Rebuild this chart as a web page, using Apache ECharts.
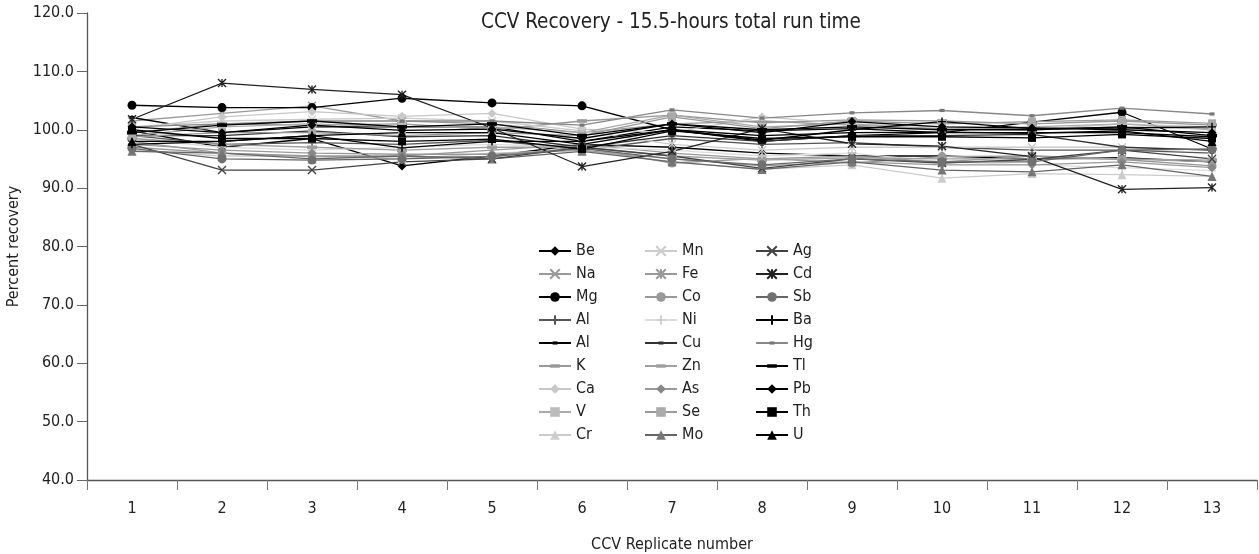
<!DOCTYPE html>
<html>
<head>
<meta charset="utf-8">
<script src="https://cdn.jsdelivr.net/npm/echarts@6/dist/echarts.min.js"></script>
<style>
html,body{margin:0;padding:0;background:#fff;}
#chart{width:1259px;height:554px;}
</style>
</head>
<body>
<div id="chart"></div>
<script>
var categories = ['1','2','3','4','5','6','7','8','9','10','11','12','13'];
var yTicks = [40, 50, 60, 70, 80, 90, 100, 110, 120];

// element labels (legend order, column by column)
var elements = ['Be','Na','Mg','Al','Al','K','Ca','V','Cr','Mn','Fe','Co','Ni','Cu','Zn','As','Se','Mo','Ag','Cd','Sb','Ba','Hg','Tl','Pb','Th','U'];

var Be  = [99.8, 97.0, 98.5, 93.8, 95.5, 97.5, 97.0, 96.0, 95.5, 95.5, 95.0, 95.2, 94.5];
var Na  = [101.5, 102.8, 104.1, 101.5, 101.0, 99.5, 101.0, 101.5, 100.8, 100.2, 100.0, 100.5, 100.2];
var Mg  = [104.2, 103.8, 103.8, 105.4, 104.6, 104.1, 100.0, 98.0, 99.0, 99.5, 101.3, 103.0, 96.7];
var Al1 = [99.0, 97.5, 97.8, 97.5, 98.2, 96.5, 98.5, 97.5, 97.8, 97.0, 96.5, 96.5, 96.0];
var Al2 = [102.1, 99.5, 100.5, 100.5, 100.5, 98.0, 100.5, 99.8, 100.2, 99.5, 99.5, 99.5, 98.8];
var K   = [99.5, 101.0, 100.8, 101.0, 100.0, 101.5, 102.5, 101.2, 101.7, 101.5, 101.0, 101.5, 100.8];
var Ca  = [100.2, 102.2, 103.1, 102.3, 102.8, 100.1, 99.5, 102.2, 101.0, 100.5, 100.0, 101.0, 100.5];
var V   = [99.0, 100.5, 101.0, 100.5, 100.5, 99.5, 102.5, 100.5, 101.0, 100.0, 100.5, 101.0, 100.0];
var Cr  = [96.5, 95.5, 95.5, 95.0, 96.0, 96.5, 94.5, 93.2, 94.0, 91.7, 92.5, 92.3, 92.0];
var Mn  = [100.5, 101.5, 101.8, 102.0, 101.5, 99.8, 97.5, 96.5, 97.0, 97.0, 97.0, 97.0, 96.5];
var Fe  = [98.0, 96.0, 95.5, 95.5, 96.5, 97.5, 96.0, 95.0, 95.5, 94.5, 95.5, 95.0, 94.5];
var Co  = [97.0, 96.0, 95.4, 95.4, 95.4, 97.0, 94.3, 95.1, 94.3, 95.4, 95.5, 94.9, 93.8];
var Ni  = [98.5, 97.0, 96.5, 97.0, 97.5, 97.0, 96.5, 95.5, 96.0, 94.5, 94.0, 93.5, 93.0];
var Cu  = [99.0, 99.0, 99.8, 98.8, 99.0, 97.0, 99.0, 98.0, 99.0, 99.0, 99.2, 97.0, 96.5];
var Zn  = [98.5, 97.5, 97.0, 96.5, 97.0, 97.0, 95.5, 94.8, 95.2, 95.0, 95.0, 95.0, 94.8];
var As  = [97.5, 96.5, 96.0, 95.8, 95.8, 96.5, 95.0, 93.8, 94.5, 94.0, 94.0, 94.5, 93.5];
var Se  = [98.8, 99.5, 99.5, 99.0, 99.5, 99.0, 102.2, 100.2, 101.5, 101.0, 101.4, 101.7, 101.1];
var Mo  = [96.3, 96.0, 95.0, 95.5, 95.0, 96.3, 94.5, 93.2, 94.5, 93.1, 92.8, 94.0, 92.0];
var Ag  = [97.5, 93.1, 93.1, 94.5, 95.0, 97.0, 95.5, 93.4, 95.0, 94.3, 94.9, 96.5, 95.0];
var Cd  = [101.8, 108.0, 106.9, 106.0, 100.3, 93.7, 96.3, 100.2, 97.6, 97.2, 95.4, 89.8, 90.1];
var Sb  = [96.8, 95.0, 94.8, 95.0, 95.4, 96.8, 95.0, 94.0, 95.0, 94.5, 94.5, 96.5, 96.7];
var Ba  = [97.5, 98.0, 99.0, 96.9, 98.0, 98.0, 100.0, 98.2, 100.0, 101.4, 100.2, 100.3, 100.5];
var Hg  = [100.5, 101.0, 101.5, 101.5, 101.5, 100.8, 103.4, 102.0, 102.9, 103.3, 102.4, 103.7, 102.7];
var Tl  = [99.5, 100.8, 101.5, 100.5, 101.0, 99.0, 101.0, 100.0, 100.5, 100.0, 100.0, 100.5, 99.0];
var Pb  = [100.5, 99.5, 100.8, 99.9, 100.1, 98.5, 101.0, 99.5, 101.4, 100.5, 100.3, 100.0, 99.5];
var Th  = [100.0, 98.5, 98.5, 98.0, 98.4, 96.7, 99.8, 98.5, 98.8, 98.8, 98.6, 99.2, 98.5];
var U   = [98.0, 98.0, 99.0, 99.5, 99.5, 97.5, 100.0, 99.0, 99.5, 99.6, 99.4, 99.8, 98.0];

var seriesValues = [Be, Na, Mg, Al1, Al2, K, Ca, V, Cr, Mn, Fe, Co, Ni, Cu, Zn, As, Se, Mo, Ag, Cd, Sb, Ba, Hg, Tl, Pb, Th, U];

// style per series: [line colour, marker colour, marker type]
var CROSS = 'path://M0,0L10,10M10,0L0,10';
var PLUS = 'path://M5,0L5,10M0,5L10,5';
var STAR = 'path://M0,0L10,10M10,0L0,10M5,0L5,10';
var DASH = 'path://M0,0M10,10M0,3.2L10,3.2L10,6.8L0,6.8Z';
var SDASH = 'path://M0,0M10,10M2.5,3.4L7.5,3.4L7.5,6.6L2.5,6.6Z';
var styles = [
  ['#000000', '#000000', 'diamond'],
  ['#9a9a9a', '#9a9a9a', CROSS],
  ['#000000', '#000000', 'circle'],
  ['#555555', '#555555', PLUS],
  ['#000000', '#000000', SDASH],
  ['#999999', '#999999', DASH],
  ['#c8c8c8', '#c8c8c8', 'diamond'],
  ['#aaaaaa', '#bbbbbb', 'rect'],
  ['#cccccc', '#cccccc', 'triangle'],
  ['#cccccc', '#cccccc', CROSS],
  ['#999999', '#999999', STAR],
  ['#999999', '#999999', 'circle'],
  ['#dddddd', '#cfcfcf', PLUS],
  ['#333333', '#333333', SDASH],
  ['#a0a0a0', '#a0a0a0', DASH],
  ['#999999', '#888888', 'diamond'],
  ['#999999', '#aaaaaa', 'rect'],
  ['#666666', '#777777', 'triangle'],
  ['#444444', '#444444', CROSS],
  ['#222222', '#222222', STAR],
  ['#666666', '#707070', 'circle'],
  ['#000000', '#000000', PLUS],
  ['#888888', '#777777', SDASH],
  ['#000000', '#000000', DASH],
  ['#000000', '#000000', 'diamond'],
  ['#000000', '#000000', 'rect'],
  ['#000000', '#000000', 'triangle']
];

var FONT = '"DejaVu Sans Condensed", "Liberation Sans Narrow", sans-serif';

// unique internal names (two "Al" entries)
var seriesNames = [];
var seen = {};
elements.forEach(function (n) {
  var key = n;
  while (seen[key]) key += '\u200b';
  seen[key] = true;
  seriesNames.push(key);
});

var series = seriesValues.map(function (vals, i) {
  var st = styles[i];
  var stroked = (st[2] === CROSS || st[2] === PLUS || st[2] === STAR);
  var isDash = (st[2] === DASH || st[2] === SDASH);
  var item = { color: st[1] };
  if (stroked) { item.borderColor = st[1]; item.borderWidth = 1.4; }
  return {
    name: seriesNames[i],
    type: 'line',
    data: vals,
    symbol: st[2],
    symbolSize: (st[2] === 'rect') ? 8 : (isDash ? 10 : (stroked ? 8 : 9)),
    symbolKeepAspect: true,
    lineStyle: { color: st[0], width: 1.3 },
    itemStyle: item,
    emphasis: { disabled: true },
    animation: false
  };
});

function legendFor(col, left) {
  return {
    orient: 'vertical',
    left: left,
    top: 243,
    padding: 0,
    itemWidth: 32,
    itemHeight: 12,
    itemGap: 7,
    selectedMode: false,
    data: seriesNames.slice(col * 9, col * 9 + 9),
    formatter: function (n) { return n.replace(/\u200b/g, ''); },
    textStyle: { fontFamily: FONT, fontSize: 16, color: '#222' }
  };
}

var chart = echarts.init(document.getElementById('chart'), null, { renderer: 'canvas' });
chart.setOption({
  backgroundColor: '#ffffff',
  animation: false,
  title: {
    text: 'CCV Recovery - 15.5-hours total run time',
    left: 481,
    top: 12,
    padding: 0,
    textStyle: { fontFamily: FONT, fontSize: 20.5, fontWeight: 'normal', color: '#222' }
  },
  legend: [legendFor(0, 538), legendFor(1, 644), legendFor(2, 755)],
  grid: { left: 87, right: 2, top: 13, bottom: 74, containLabel: false, outerBoundsMode: 'none' },
  xAxis: {
    type: 'category',
    data: categories,
    boundaryGap: true,
    name: 'CCV Replicate number',
    nameLocation: 'middle',
    nameGap: 57,
    nameTextStyle: { fontFamily: FONT, fontSize: 16, color: '#222' },
    axisLine: { lineStyle: { color: '#555', width: 1.3 } },
    axisTick: { show: true, length: 10, inside: false, alignWithLabel: false, lineStyle: { color: '#777' } },
    axisLabel: { fontFamily: FONT, fontSize: 16, color: '#222', margin: 21 },
    splitLine: { show: false }
  },
  yAxis: {
    type: 'value',
    min: yTicks[0],
    max: yTicks[yTicks.length - 1],
    interval: 10,
    name: 'Percent recovery',
    nameLocation: 'middle',
    nameGap: 60,
    nameRotate: 90,
    nameTextStyle: { fontFamily: FONT, fontSize: 16, color: '#222' },
    axisLine: { show: true, lineStyle: { color: '#555', width: 1.3 } },
    axisTick: { show: true, length: 10, inside: false, lineStyle: { color: '#666' } },
    axisLabel: {
      fontFamily: FONT, fontSize: 16, color: '#222', margin: 13,
      formatter: function (v) { return v.toFixed(1); }
    },
    splitLine: { show: false }
  },
  series: series
});
</script>
</body>
</html>
